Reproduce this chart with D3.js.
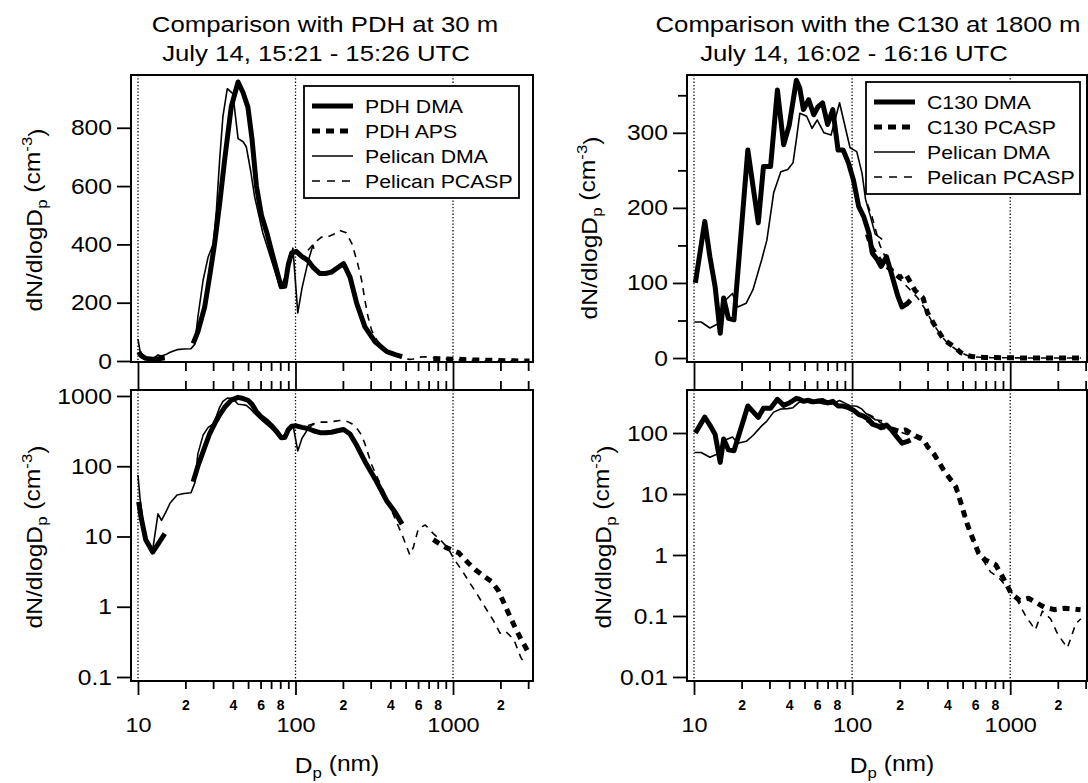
<!DOCTYPE html>
<html>
<head>
<meta charset="utf-8">
<script src="https://cdn.jsdelivr.net/npm/d3@7"></script>
<style>
body { margin: 0; background: #fff; }
svg text { font-family: "Liberation Sans", Arial, Helvetica, sans-serif; fill: #000; }
</style>
</head>
<body>
<div id="chart"></div>
<script>
// ---- left panel: PDH at 30 m
const pdhDmaDp = [10.1, 10.5, 11.2, 12.4, 13.5, 14.8, 18, 22.4, 24, 26.5, 28.5, 30.7, 33, 35.5, 39.1, 43.2, 46.5, 49.9, 53, 56.5, 60.8, 66, 70.2, 77, 81, 85.6, 90, 94.6, 101, 110, 120, 130, 143, 155, 169, 185, 202, 222, 245, 276, 320, 380, 430, 475];
const pdhDmaN = [31, 18, 9, 6, 8, 11, null, 60, 100, 185, 290, 405, 540, 690, 872, 957, 920, 870, 760, 600, 500, 437, 380, 300, 255, 256, 330, 371, 376, 358, 345, 320, 300, 300, 305, 320, 334, 288, 197, 117, 66, 32, 22, 15];
const pdhApsDp = [750, 815, 900, 1000, 1082, 1250, 1400, 1542, 1750, 1940, 2203, 2437, 2694, 3060];
const pdhApsN = [9, 8, 7, 6.3, 5.9, 4.2, 3.3, 2.8, 2.3, 1.7, 0.9, 0.55, 0.35, 0.21];
const pelDmaLDp = [10, 10.3, 10.8, 11.5, 12.4, 13.4, 14.1, 15, 16, 17.7, 19.6, 21.7, 22.9, 24, 25.9, 27.9, 30.1, 31.5, 33, 34.6, 36.9, 40, 43.2, 46.5, 48.7, 52, 55, 62, 70, 80, 88, 96.3, 103.4, 110, 120, 129, 131];
const pelDmaLN = [75, 35, 15, 8, 6.5, 21, 17, 22, 30, 39, 41, 42, 57, 150, 277, 357, 402, 520, 690, 838, 934, 917, 763, 752, 735, 650, 564, 440, 350, 250, 300, 387, 165, 250, 340, 397, 385];
const pelPcaspLDp = [120, 135, 146, 158, 175, 191, 210, 228, 248, 263, 276, 289, 304, 330, 370, 420, 480, 531, 560, 603, 667, 750, 850, 929, 1026, 1150, 1259, 1400, 1542, 1795, 1987, 2150, 2437, 2694, 2830];
const pelPcaspLN = [380, 410, 425, 425, 435, 448, 440, 403, 335, 277, 208, 151, 106, 70, 40, 20, 10, 5.5, 7, 13, 14.6, 11, 8.5, 6.8, 4.6, 3.2, 2.3, 1.6, 1.12, 0.65, 0.42, 0.45, 0.34, 0.19, 0.16];

// ---- right panel: C130 at 1800 m
const c130DmaDp = [10.2, 11.7, 12.6, 13.6, 14.65, 15.4, 16.5, 17.9, 21.9, 25.5, 27.5, 30.5, 33.7, 36.9, 40, 44.4, 46.6, 49.2, 53.1, 57.2, 61, 65, 70, 75.5, 81.5, 87.8, 94.8, 102, 110, 118.6, 128, 134, 144.5, 152.6, 165, 177, 195, 207, 222, 234];
const c130DmaN = [100, 182, 135, 95, 33, 80, 53, 51, 277, 180, 255, 255, 357, 284, 310, 370, 360, 331, 344, 324, 335, 340, 311, 331, 277, 277, 260, 237, 202, 188, 166, 140, 131, 122, 135, 113, 82, 68, 72, 77];
const c130PcaspDp = [125, 133.6, 150, 175, 200, 218, 250, 281, 300, 330, 379, 453, 489, 533, 573, 631, 695, 809, 894, 1014, 1150, 1305, 1638, 1905, 2215, 2785];
const c130PcaspN = [165, 146, 130, 118, 107, 112, 90, 80, 60, 45, 24.7, 13.2, 7, 3.3, 2.0, 1.07, 0.83, 0.69, 0.44, 0.235, 0.18, 0.195, 0.14, 0.127, 0.134, 0.126];
const pelDmaRDp = [10.05, 11.1, 12.6, 14.3, 15.8, 17.5, 18.9, 21.4, 23.6, 26.8, 28.9, 31.9, 35.4, 39.2, 42.3, 44.4, 46.7, 51.6, 55.8, 60.2, 66.4, 73.6, 83.3, 92.2, 97.1, 107, 115.6, 121.7, 130, 140, 155];
const pelDmaRN = [48, 48, 40, 46, 77, 86, 68, 73, 91, 131, 157, 220, 248, 251, 260, 291, 326, 322, 306, 317, 300, 297, 340, 300, 280, 275, 246, 211, 190, 165, 158];
const pelPcaspRDp = [125, 133, 150, 170, 200, 230, 260, 290, 320, 360, 400, 450, 500, 550, 600, 650, 750, 850, 950, 1076, 1240, 1440, 1600, 1800, 2000, 2300, 2600, 2800];
const pelPcaspRN = [205, 190, 150, 125, 105, 92, 80, 65, 48, 32, 20, 12, 6, 2.5, 1.4, 0.95, 0.53, 0.42, 0.3, 0.207, 0.105, 0.059, 0.12, 0.09, 0.05, 0.03, 0.075, 0.09];

// ---- ticks and labels
const majorX = [10, 100, 1000];
const minorX = [20, 30, 40, 50, 60, 70, 80, 90, 200, 300, 400, 500, 600, 700, 800, 900, 2000, 3000];
const minorXLabeled = [20, 40, 60, 80, 200, 400, 600, 800, 2000];
const yTicksTL = [0, 200, 400, 600, 800];
const yTicksTR = [0, 100, 200, 300];
const yMinorTR = [50, 150, 250, 350];
const yTicksBL = [0.1, 1, 10, 100, 1000];
const yTicksBR = [0.01, 0.1, 1, 10, 100];
const legendL = ["PDH DMA", "PDH APS", "Pelican DMA", "Pelican PCASP"];
const legendR = ["C130 DMA", "C130 PCASP", "Pelican DMA", "Pelican PCASP"];

const SX = 1.12; // the scanned lettering is wider than Arial

const styles = [
	{ w: 5, dash: null },
	{ w: 5, dash: "7,6" },
	{ w: 1.6, dash: null },
	{ w: 1.6, dash: "7,6" }
];

var svg = d3.select("#chart").append("svg").attr("width", 1088).attr("height", 783);

function stext(x, y, s, size, anchor, rot) {
	return svg
		.append("text")
		.attr("transform", "translate(" + x + "," + y + ")" + (rot ? " rotate(" + rot + ")" : "") + " scale(" + SX + ",1)")
		.attr("text-anchor", anchor || "middle")
		.style("font-size", size + "px")
		.text(s);
}

function styleAxis(g, size) {
	g.attr("font-size", null).attr("font-family", null);
	g.select(".domain").remove();
	g.selectAll("line").attr("stroke", "#000").attr("stroke-width", 1.8);
	g.selectAll("text").style("font-size", size + "px");
}

function drawPlot(p) {
	var x = p.x, y = p.y;
	var x0 = x.range()[0], x1 = x.range()[1], yb = y.range()[0], yt = y.range()[1];
	var g = svg.append("g");

	g.append("clipPath").attr("id", p.id)
		.append("rect").attr("x", x0).attr("y", yt).attr("width", x1 - x0).attr("height", yb - yt);

	// dotted lines at the decades
	g.selectAll(".grid").data(majorX).enter().append("line")
		.attr("x1", d => x(d)).attr("x2", d => x(d))
		.attr("y1", yt).attr("y2", yb)
		.attr("stroke", "#000").attr("stroke-width", 1.3).attr("stroke-dasharray", "1.3,2");

	var plot = g.append("g").attr("clip-path", "url(#" + p.id + ")");
	p.series.forEach(function (s) {
		var pts = s.dp.map((d, i) => [d, s.n[i]]);
		var line = d3.line().defined(d => d[1] != null).x(d => x(d[0])).y(d => y(d[1]));
		plot.append("path")
			.attr("d", line(pts))
			.attr("fill", "none")
			.attr("stroke", "#000")
			.attr("stroke-width", styles[s.st].w)
			.attr("stroke-dasharray", styles[s.st].dash)
			.attr("stroke-linejoin", "round");
	});

	g.append("rect").attr("x", x0).attr("y", yt).attr("width", x1 - x0).attr("height", yb - yt)
		.attr("fill", "none").attr("stroke", "#000").attr("stroke-width", 2);

	// y axis
	var ya = g.append("g").attr("transform", "translate(" + x0 + ",0)")
		.call(d3.axisLeft(y).tickValues(p.yTicks).tickSize(14).tickPadding(5).tickFormat(d3.format("~g")));
	styleAxis(ya, 22);
	ya.selectAll("text").attr("x", -19 / SX).attr("transform", "scale(" + SX + ",1)");
	if (p.yMinor) {
		var ym = g.append("g").attr("transform", "translate(" + x0 + ",0)")
			.call(d3.axisLeft(y).tickValues(p.yMinor).tickSize(9).tickFormat(""));
		styleAxis(ym, 10);
	}

	if (p.upper) {
		// ticks hanging under the upper plot
		var a1 = g.append("g").attr("transform", "translate(0," + yb + ")")
			.call(d3.axisBottom(x).tickValues(majorX).tickSize(14).tickFormat(""));
		var a2 = g.append("g").attr("transform", "translate(0," + yb + ")")
			.call(d3.axisBottom(x).tickValues(minorX).tickSize(9).tickFormat(""));
		styleAxis(a1, 10); styleAxis(a2, 10);
	} else {
		var t1 = g.append("g").attr("transform", "translate(0," + yt + ")")
			.call(d3.axisTop(x).tickValues(majorX).tickSize(14).tickFormat(""));
		var t2 = g.append("g").attr("transform", "translate(0," + yt + ")")
			.call(d3.axisTop(x).tickValues(minorX).tickSize(9).tickFormat(""));
		styleAxis(t1, 10); styleAxis(t2, 10);
		var b1 = g.append("g").attr("transform", "translate(0," + yb + ")")
			.call(d3.axisBottom(x).tickValues(majorX).tickSize(14).tickFormat(d3.format("d")));
		styleAxis(b1, 21);
		b1.selectAll("text").attr("y", 51).attr("dy", 0).attr("transform", "scale(" + SX + ",1)");
		var b2 = g.append("g").attr("transform", "translate(0," + yb + ")")
			.call(d3.axisBottom(x).tickValues(minorX).tickSize(8)
				.tickFormat(d => minorXLabeled.indexOf(d) >= 0 ? String(d).charAt(0) : ""));
		styleAxis(b2, 14);
		b2.selectAll("text").attr("y", 29).attr("dy", 0).style("font-weight", "bold");
	}
}

function yLabel(x, y) {
	var t = svg.append("text")
		.attr("transform", "translate(" + x + "," + y + ") rotate(-90) scale(" + SX + ",1)")
		.attr("text-anchor", "middle")
		.style("font-size", "22px");
	t.append("tspan").text("dN/dlogD");
	t.append("tspan").attr("dy", "0.3em").style("font-size", "15px").text("p");
	t.append("tspan").attr("dy", "-0.3em").text(" (cm");
	t.append("tspan").attr("dy", "-0.55em").style("font-size", "15px").text("-3");
	t.append("tspan").attr("dy", "0.55em").text(")");
}

function xLabel(x, y) {
	var t = svg.append("text")
		.attr("transform", "translate(" + x + "," + y + ") scale(" + SX + ",1)")
		.attr("text-anchor", "middle")
		.style("font-size", "22px");
	t.append("tspan").text("D");
	t.append("tspan").attr("dy", "0.3em").style("font-size", "15px").text("p");
	t.append("tspan").attr("dy", "-0.3em").text(" (nm)");
}

function legend(x, y, w, h, names) {
	svg.append("rect").attr("x", x).attr("y", y).attr("width", w).attr("height", h)
		.attr("fill", "#fff").attr("stroke", "#000").attr("stroke-width", 1.8);
	var offs = [20, 45, 70, 95];
	names.forEach(function (n, i) {
		svg.append("line")
			.attr("x1", x + 8).attr("x2", x + 49)
			.attr("y1", y + offs[i]).attr("y2", y + offs[i])
			.attr("stroke", "#000")
			.attr("stroke-width", styles[i].w)
			.attr("stroke-dasharray", styles[i].dash ? (i == 1 ? "8,6" : "8,7") : null);
		stext(x + 61, y + offs[i] + 7, n, 19, "start");
	});
}

var xL = d3.scaleLog().domain([9.03, 3220]).range([131, 533]);
var xR = d3.scaleLog().domain([9.03, 3060]).range([687, 1087]);
var yTL = d3.scaleLinear().domain([-3.4, 981]).range([362, 75]);
var yTR = d3.scaleLinear().domain([-5.3, 377]).range([362, 75]);
var yBL = d3.scaleLog().domain([0.0877, 1217]).range([681, 390]);
var yBR = d3.scaleLog().domain([0.00859, 507]).range([681, 390]);

var leftSeries = [
	{ dp: pelPcaspLDp, n: pelPcaspLN, st: 3 },
	{ dp: pelDmaLDp, n: pelDmaLN, st: 2 },
	{ dp: pdhApsDp, n: pdhApsN, st: 1 },
	{ dp: pdhDmaDp, n: pdhDmaN, st: 0 }
];
var rightSeries = [
	{ dp: pelPcaspRDp, n: pelPcaspRN, st: 3 },
	{ dp: pelDmaRDp, n: pelDmaRN, st: 2 },
	{ dp: c130PcaspDp, n: c130PcaspN, st: 1 },
	{ dp: c130DmaDp, n: c130DmaN, st: 0 }
];

drawPlot({ id: "cTL", x: xL, y: yTL, yTicks: yTicksTL, upper: true, series: leftSeries });
drawPlot({ id: "cBL", x: xL, y: yBL, yTicks: yTicksBL, upper: false, series: leftSeries });
drawPlot({ id: "cTR", x: xR, y: yTR, yTicks: yTicksTR, yMinor: yMinorTR, upper: true, series: rightSeries });
drawPlot({ id: "cBR", x: xR, y: yBR, yTicks: yTicksBR, upper: false, series: rightSeries });

legend(304, 86, 215, 112, legendL);
legend(866, 82, 214, 112, legendR);

stext(325, 32, "Comparison with PDH at 30 m", 23);
stext(316, 61, "July 14, 15:21 - 15:26 UTC", 23);
stext(868, 32, "Comparison with the C130 at 1800 m", 23);
stext(854, 61, "July 14, 16:02 - 16:16 UTC", 23);

yLabel(42, 220);
yLabel(42, 537);
yLabel(597, 228);
yLabel(611, 537);
xLabel(337, 773);
xLabel(892, 773);
</script>
</body>
</html>
